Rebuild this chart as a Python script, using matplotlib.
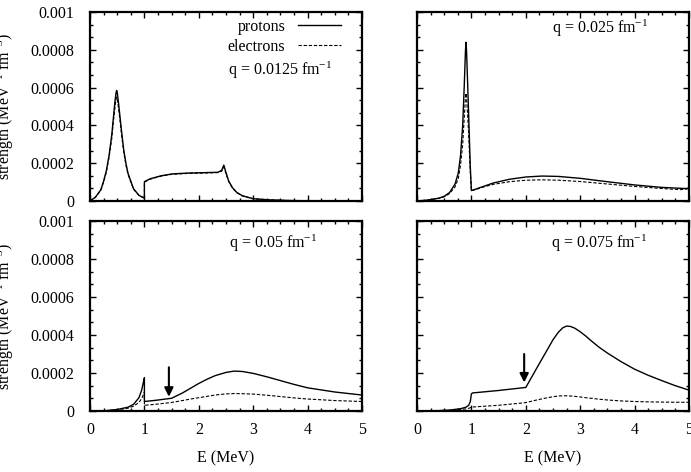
import numpy as np
import matplotlib.pyplot as plt
from matplotlib.ticker import MultipleLocator, AutoMinorLocator, FuncFormatter

plt.rcParams['font.family'] = ['Liberation Serif', 'DejaVu Serif']
plt.rcParams['mathtext.fontset'] = 'custom'
plt.rcParams['mathtext.rm'] = 'Liberation Serif'
plt.rcParams['mathtext.it'] = 'Liberation Serif:italic'
plt.rcParams['font.size'] = 11.5

# ---- data (strength in units of 1e-4) ----
# q = 0.0125 fm^-1
e_a = [0, 0.1, 0.2, 0.25, 0.3, 0.35, 0.4, 0.43, 0.46, 0.48, 0.49, 0.5, 0.52, 0.55, 0.58, 0.62, 0.66, 0.7, 0.8, 0.9, 1.0,
       1.0, 1.1, 1.3, 1.5, 1.8, 2.1, 2.35, 2.42, 2.46, 2.5, 2.55, 2.62, 2.7, 2.8, 3.0, 3.3, 3.6, 4.0, 5.0]
prot_a = [0, 0.2, 0.6, 1.05, 1.6, 2.4, 3.5, 4.4, 5.3, 5.75, 5.85, 5.75, 5.3, 4.5, 3.7, 2.7, 2.0, 1.45, 0.65, 0.3, 0.15,
          1.02, 1.17, 1.33, 1.43, 1.48, 1.5, 1.52, 1.62, 1.9, 1.5, 1.05, 0.7, 0.45, 0.28, 0.12, 0.06, 0.03, 0.01, 0.0]
elec_a = [0, 0.2, 0.58, 1.0, 1.52, 2.3, 3.3, 4.2, 5.0, 5.4, 5.5, 5.4, 5.0, 4.3, 3.5, 2.6, 1.9, 1.4, 0.62, 0.29, 0.15,
          1.0, 1.15, 1.31, 1.41, 1.46, 1.48, 1.5, 1.58, 1.8, 1.45, 1.02, 0.68, 0.44, 0.27, 0.12, 0.06, 0.03, 0.01, 0.0]

# q = 0.025 fm^-1
e_b = [0, 0.2, 0.4, 0.5, 0.6, 0.7, 0.76, 0.8, 0.84, 0.87, 0.89, 0.9, 0.91, 0.93, 0.95, 0.98, 1.0,
       1.05, 1.2, 1.4, 1.7, 2.0, 2.3, 2.6, 3.0, 3.5, 4.0, 4.5, 4.85, 4.95, 5.0]
prot_b = [0, 0.05, 0.15, 0.25, 0.45, 0.9, 1.5, 2.4, 4.0, 6.2, 7.9, 8.4, 8.0, 6.3, 4.5, 1.8, 0.55,
          0.6, 0.75, 0.95, 1.15, 1.27, 1.32, 1.3, 1.2, 1.02, 0.85, 0.72, 0.67, 0.66, 0.66]
elec_b = [0, 0.05, 0.14, 0.22, 0.4, 0.75, 1.2, 1.9, 3.0, 4.5, 5.4, 5.7, 5.5, 4.6, 3.5, 1.5, 0.55,
          0.58, 0.72, 0.88, 1.02, 1.1, 1.12, 1.1, 1.03, 0.9, 0.77, 0.66, 0.6, 0.63, 0.72]

# q = 0.05 fm^-1
e_c = [0, 0.3, 0.5, 0.7, 0.8, 0.9, 0.95, 0.98, 1.0, 1.0, 1.2, 1.5, 1.7, 1.85, 2.0, 2.15, 2.3, 2.5, 2.65, 2.8, 3.0,
       3.25, 3.5, 3.75, 4.0, 4.5, 5.0]
prot_c = [0, 0.02, 0.08, 0.2, 0.35, 0.7, 1.1, 1.5, 1.75, 0.5, 0.56, 0.67, 0.95, 1.2, 1.45, 1.67, 1.86, 2.03, 2.1, 2.08, 1.98,
          1.8, 1.6, 1.4, 1.22, 1.0, 0.84]
elec_c = [0, 0.02, 0.06, 0.15, 0.25, 0.45, 0.65, 0.85, 1.0, 0.3, 0.35, 0.45, 0.55, 0.63, 0.7, 0.77, 0.84, 0.9, 0.92, 0.91, 0.89,
          0.83, 0.76, 0.69, 0.63, 0.55, 0.5]

# q = 0.075 fm^-1
e_d = [0, 0.4, 0.6, 0.8, 0.9, 0.95, 0.98, 1.0, 1.02, 1.5, 2.0, 2.2, 2.4, 2.5, 2.6, 2.68, 2.75, 2.82, 2.9, 3.0,
       3.1, 3.2, 3.35, 3.5, 3.75, 4.0, 4.25, 4.5, 4.75, 5.0]
prot_d = [0, 0.02, 0.05, 0.12, 0.2, 0.3, 0.5, 0.9, 0.95, 1.08, 1.24, 2.25, 3.25, 3.75, 4.15, 4.38, 4.47, 4.45, 4.36, 4.17,
          3.95, 3.7, 3.35, 3.05, 2.6, 2.2, 1.88, 1.6, 1.33, 1.1]
elec_d = [0, 0.02, 0.03, 0.08, 0.11, 0.14, 0.17, 0.2, 0.21, 0.3, 0.44, 0.58, 0.7, 0.75, 0.79, 0.8, 0.8, 0.79, 0.77, 0.74,
          0.7, 0.67, 0.62, 0.58, 0.53, 0.5, 0.48, 0.47, 0.46, 0.46]

energies = [e_a, e_b, e_c, e_d]
protons = [prot_a, prot_b, prot_c, prot_d]
electrons = [elec_a, elec_b, elec_c, elec_d]
q_labels = ['q = 0.0125 fm$^{-1}$', 'q = 0.025 fm$^{-1}$', 'q = 0.05 fm$^{-1}$', 'q = 0.075 fm$^{-1}$']
# arrows (panel index, E, tail, head) in 1e-4
arrows = [(2, 1.45, 2.3, 0.75), (3, 1.97, 3.0, 1.5)]

W, H = 691, 472
fig = plt.figure(figsize=(W / 100, H / 100), dpi=100)

boxes = [(90, 12, 362, 201), (417, 12, 689, 201), (90, 221, 362, 411), (417, 221, 689, 411)]
label_pos = [(0.70, 0.69), (0.674, 0.915), (0.673, 0.884), (0.67, 0.884)]

axes = []
for i, (x0, y0, x1, y1) in enumerate(boxes):
    ax = fig.add_axes([x0 / W, 1 - y1 / H, (x1 - x0) / W, (y1 - y0) / H])
    E = np.array(energies[i])
    ax.plot(E, np.array(protons[i]) * 1e-4, color='k', lw=1.0, label='protons')
    ax.plot(E, np.array(electrons[i]) * 1e-4, color='k', lw=0.8, ls=(0, (3, 1.6)), label='electrons')
    ax.set_xlim(0, 5)
    ax.set_ylim(0, 0.001)
    ax.xaxis.set_major_locator(MultipleLocator(1))
    ax.xaxis.set_minor_locator(AutoMinorLocator(4))
    ax.yaxis.set_major_locator(MultipleLocator(0.0002))
    ax.yaxis.set_minor_locator(AutoMinorLocator(3))
    ax.tick_params(which='both', direction='in', top=True, right=True, width=1.0)
    ax.tick_params(which='major', length=4.5)
    ax.tick_params(which='minor', length=2.5)
    ax.tick_params(axis='y', pad=11.5)
    ax.tick_params(axis='x', pad=8)
    for s in ax.spines.values():
        s.set_linewidth(1.6)
    ax.yaxis.set_major_formatter(FuncFormatter(lambda v, p: '0' if abs(v) < 1e-12 else ('%.4f' % v).rstrip('0')))
    if i % 2 == 1:
        ax.set_yticklabels([])
    else:
        ax.set_ylabel('strength (MeV$^{-1}$ fm$^{-3}$)')
        ax.yaxis.set_label_coords(-0.272, 0.5)
    if i < 2:
        ax.set_xticklabels([])
    else:
        ax.set_xlabel('E (MeV)', labelpad=9)
    ax.text(label_pos[i][0], label_pos[i][1], q_labels[i], transform=ax.transAxes, ha='center', va='center')
    axes.append(ax)

for idx, ex, tail, head in arrows:
    axes[idx].annotate('', xy=(ex, head * 1e-4), xytext=(ex, tail * 1e-4),
                       arrowprops=dict(arrowstyle='-|>', color='k', lw=1.5, mutation_scale=13, shrinkA=0, shrinkB=0))

axes[0].legend(loc='upper right', bbox_to_anchor=(0.935, 0.98), frameon=False, markerfirst=False,
               handlelength=2.7, handletextpad=0.8, labelspacing=0.25, borderpad=0.2, borderaxespad=0)

fig.savefig('out.png', dpi=100)
